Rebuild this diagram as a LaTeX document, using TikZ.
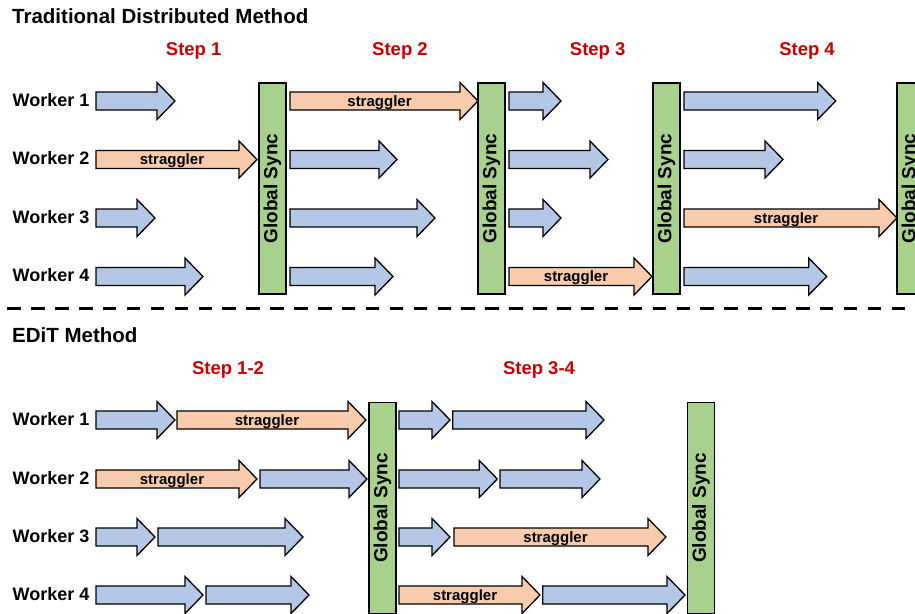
\documentclass[tikz,border=0pt]{standalone}
\usepackage{fontspec}
\setmainfont{Liberation Sans}

\definecolor{workblue}{HTML}{B4C7E7}
\definecolor{stragorange}{HTML}{F8CBAD}
\definecolor{syncgreen}{HTML}{A9D18E}
\definecolor{stepred}{HTML}{CC0000}

\tikzset{
  arrowshape/.style={draw=black, line width=1.3pt, line join=miter},
  stragtext/.style={anchor=base, inner sep=0pt, font=\fontsize{15}{17}\selectfont\bfseries},
  workerlabel/.style={anchor=west, inner sep=0pt, font=\fontsize{18}{20}\selectfont\bfseries},
  steplabel/.style={anchor=base, inner sep=0pt, text=stepred, font=\fontsize{18.5}{20}\selectfont\bfseries},
  titlelabel/.style={anchor=west, inner sep=0pt, font=\fontsize{20.5}{22}\selectfont\bfseries},
  syncbar/.style={draw=black, line width=1.3pt, fill=syncgreen, rotate=90, minimum width=211pt,
    minimum height=27pt, inner sep=0pt, font=\fontsize{19}{21}\selectfont\bfseries},
}

% block arrow: [fill]{start x}{tip x}{row y}
\newcommand{\workarrow}[4][workblue]{%
  \draw[arrowshape, fill=#1] (#2,#4-9) -- (#3-18,#4-9) -- (#3-18,#4-18.5) -- (#3,#4)
    -- (#3-18,#4+18.5) -- (#3-18,#4+9) -- (#2,#4+9) -- cycle;}
% straggler arrow: {start x}{tip x}{row y}{name}
\newcommand{\stragarrow}[4]{%
  \workarrow[stragorange]{#1}{#2}{#3}
  \node[stragtext] (#4) at ({(#1+#2-9)/2},#3+5.3) {straggler};}

\begin{document}
\begin{tikzpicture}[x=1pt, y=-1pt]
  \clip (0,0) rectangle (915,613);

  % traditional method
  \node[titlelabel] (tradtitle) at (12,16) {Traditional Distributed Method};
  \node[steplabel] (step1) at (193.7,55) {Step 1};
  \node[steplabel] (step2) at (400,55) {Step 2};
  \node[steplabel] (step3) at (597.7,55) {Step 3};
  \node[steplabel] (step4) at (807,55) {Step 4};

  \node[workerlabel] (tw1) at (12.5,100) {Worker 1};
  \node[workerlabel] (tw2) at (12.5,158.5) {Worker 2};
  \node[workerlabel] (tw3) at (12.5,217) {Worker 3};
  \node[workerlabel] (tw4) at (12.5,275.5) {Worker 4};

  \workarrow{96}{175}{101}
  \stragarrow{96}{257}{159.5}{ts12}
  \workarrow{96}{155}{218}
  \workarrow{96}{203}{276.5}

  \stragarrow{290}{478}{101}{ts21}
  \workarrow{290}{397}{159.5}
  \workarrow{290}{435}{218}
  \workarrow{290}{393}{276.5}

  \workarrow{509}{561}{101}
  \workarrow{509}{608}{159.5}
  \workarrow{509}{561}{218}
  \stragarrow{509}{652}{276.5}{ts34}

  \workarrow{684}{835.7}{101}
  \workarrow{684}{783}{159.5}
  \stragarrow{684}{897}{218}{ts43}
  \workarrow{684}{826.7}{276.5}

  \node[syncbar] (tsync1) at (272.5,188.5) {Global Sync};
  \node[syncbar] (tsync2) at (491.4,188.5) {Global Sync};
  \node[syncbar] (tsync3) at (666.4,188.5) {Global Sync};
  \node[syncbar] (tsync4) at (910.5,188.5) {Global Sync};

  \draw[line width=3pt, dash pattern=on 13.5pt off 10.4pt] (7.3,308) -- (915,308);

  % EDiT method
  \node[titlelabel] (edittitle) at (12,335.3) {EDiT Method};
  \node[steplabel] (step12) at (228,374) {Step 1-2};
  \node[steplabel] (step34) at (539,374) {Step 3-4};

  \node[workerlabel] (ew1) at (12.5,419) {Worker 1};
  \node[workerlabel] (ew2) at (12.5,478) {Worker 2};
  \node[workerlabel] (ew3) at (12.5,536) {Worker 3};
  \node[workerlabel] (ew4) at (12.5,594) {Worker 4};

  \workarrow{96}{175}{420}
  \stragarrow{177}{366}{420}{es11}
  \workarrow{399}{450}{420}
  \workarrow{452.7}{604}{420}

  \stragarrow{96}{257}{479}{es21}
  \workarrow{260}{367}{479}
  \workarrow{399}{497.3}{479}
  \workarrow{500}{600}{479}

  \workarrow{96}{155}{537}
  \workarrow{158}{303}{537}
  \workarrow{399}{450}{537}
  \stragarrow{454}{666}{537}{es33}

  \workarrow{96}{203}{595}
  \workarrow{206}{309}{595}
  \stragarrow{399}{540}{595}{es43}
  \workarrow{542.7}{685}{595}

  \node[syncbar] (esync1) at (382.5,508) {Global Sync};
  \node[syncbar] (esync2) at (701,508) {Global Sync};
\end{tikzpicture}
\end{document}
